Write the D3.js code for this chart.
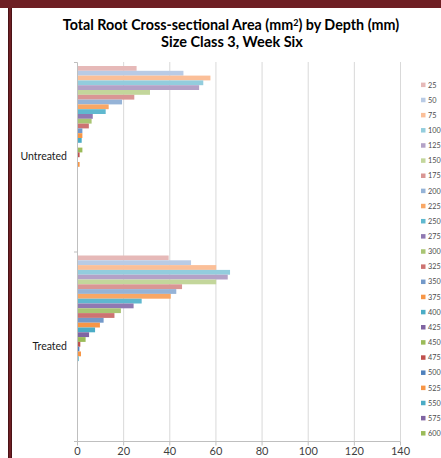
<!DOCTYPE html>
<html><head><meta charset="utf-8">
<script src="https://cdn.jsdelivr.net/npm/d3@7"></script>
<style>
html,body{margin:0;padding:0;background:#fff;}
svg{display:block;font-family:Lato,"Open Sans",sans-serif;}
</style></head>
<body>
<svg id="chart" width="441" height="458"></svg>
<script>
const categories = ["Untreated", "Treated"];
const depths = ["25","50","75","100","125","150","175","200","225","250","275","300","325","350","375","400","425","450","475","500","525","550","575","600"];
const untreated = [25.4, 45.7, 57.4, 54.3, 52.5, 31.2, 24.4, 19.1, 13.3, 12.0, 6.4, 5.9, 4.7, 1.9, 1.9, 1.6, 0, 1.9, 0.7, 0, 0.7, 0, 0, 0];
const treated = [39.3, 49.0, 59.9, 65.9, 64.9, 59.9, 45.1, 42.6, 40.2, 27.6, 24.1, 18.6, 15.8, 11.1, 9.5, 7.4, 4.8, 3.3, 1.0, 0.6, 1.3, 0.3, 0, 0];
const xTicks = [0, 20, 40, 60, 80, 100, 120, 140];
const colors = ["#e6b9b8","#b9cbe5","#fbbf98","#93cddd","#b3a2c7","#c3d69b","#d99694","#95b3d7","#f9a765","#5fb8cf","#9079b2","#a9c573",
                "#cd7371","#7399c9","#f79646","#4bacc6","#8064a2","#9bbb59","#c0504d","#4f81bd","#f79646","#4bacc6","#8064a2","#9bbb59"];
const seriesByCat = {"Untreated": untreated, "Treated": treated};

const svg = d3.select("#chart");

// frame
svg.append("rect").attr("x",0).attr("y",0).attr("width",441).attr("height",8).attr("fill","#6e1f24");
svg.append("rect").attr("x",8).attr("y",0).attr("width",4).attr("height",458).attr("fill","#6e1f24");
svg.append("line").attr("x1",8.5).attr("x2",8.5).attr("y1",8).attr("y2",458).attr("stroke","#4a1216").attr("stroke-width",1);
svg.append("line").attr("x1",11.5).attr("x2",11.5).attr("y1",8).attr("y2",458).attr("stroke","#4a1216").attr("stroke-width",1);

// title
svg.append("text").attr("x",231).attr("y",30).attr("text-anchor","middle")
  .attr("font-size",14.3).attr("font-weight","bold").attr("fill","#000")
  .html('Total Root Cross-sectional Area (mm<tspan dy="-4.5" font-size="9">2</tspan><tspan dy="4.5">) by Depth (mm)</tspan>');
svg.append("text").attr("x",232).attr("y",47).attr("text-anchor","middle")
  .attr("font-size",14.5).attr("font-weight","bold").attr("fill","#000").text("Size Class 3, Week Six");

const x = d3.scaleLinear().domain([0,140]).range([77,400]);
const y = d3.scaleBand().domain(categories).range([62,441]).padding(0);
const step = 4.8;
const inner = d3.scaleBand().domain(depths).range([4, 4 + depths.length*step]).padding(0);

// gridlines
svg.append("g").selectAll("line").data(xTicks.slice(1)).join("line")
  .attr("x1",d=>x(d)+0.5).attr("x2",d=>x(d)+0.5).attr("y1",62).attr("y2",441)
  .attr("stroke","#d9d9d9").attr("stroke-width",1);

// bars
categories.forEach(cat => {
  const vals = seriesByCat[cat];
  svg.append("g").selectAll("rect").data(depths.map((d,i)=>({d, v: vals[i], c: colors[i]}))).join("rect")
    .attr("x", x(0)+1)
    .attr("y", d => y(cat) + inner(d.d))
    .attr("width", d => Math.max(0, x(d.v) - x(0)))
    .attr("height", inner.bandwidth())
    .attr("fill", d => d.c);
});

// y axis
const yAxis = d3.axisLeft(y).tickSize(3).tickFormat("");
const yg = svg.append("g").attr("transform","translate(77.5,0)").call(yAxis);
yg.select(".domain").attr("stroke","#bfbfbf").attr("d","M-3,62.5H0V441.5H-3");
yg.selectAll(".tick line").remove();
svg.append("g").selectAll("line").data([62,251.5,441]).join("line")
  .attr("x1",74).attr("x2",77).attr("y1",d=>d+0.5).attr("y2",d=>d+0.5).attr("stroke","#bfbfbf");
svg.append("g").selectAll("text").data(categories).join("text")
  .attr("x",67).attr("y",d=>y(d)+y.bandwidth()/2 + 3.5)
  .attr("text-anchor","end").attr("font-size",10.5).attr("fill","#1a1a1a").text(d=>d);

// x axis
const xAxis = d3.axisBottom(x).tickValues(xTicks).tickSize(4).tickFormat(d3.format("d"));
const xg = svg.append("g").attr("transform","translate(0,441.5)").call(xAxis);
xg.select(".domain").attr("stroke","#bfbfbf").attr("d","M74,0H400.5V0");
xg.selectAll(".tick line").attr("stroke","#bfbfbf");
xg.selectAll(".tick text").attr("font-size",11).attr("fill","#3f3f3f").attr("font-family","Lato,'Open Sans',sans-serif").attr("dy","0.95em").attr("y",3);

// legend
const lg = svg.append("g");
const ly = d3.scaleBand().domain(depths).range([80, 80 + depths.length*15.15]);
lg.selectAll("rect").data(depths).join("rect")
  .attr("x",421).attr("y",d=>ly(d)+2.6).attr("width",4.5).attr("height",4.5)
  .attr("fill",(d,i)=>colors[i]);
lg.selectAll("text").data(depths).join("text")
  .attr("x",428).attr("y",d=>ly(d)+7.5).attr("font-size",7.3).attr("fill","#4d4d4d").text(d=>d);
</script>
</body></html>
